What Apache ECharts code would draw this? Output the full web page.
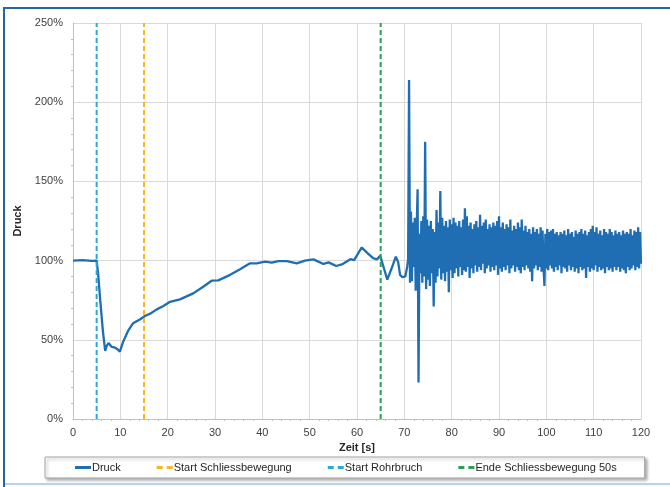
<!DOCTYPE html>
<html>
<head>
<meta charset="utf-8">
<script src="https://cdn.jsdelivr.net/npm/echarts@6/dist/echarts.min.js"></script>
<style>
  html, body { margin: 0; padding: 0; background: #ffffff; }
  #chart { width: 670px; height: 487px; }
</style>
</head>
<body>
<div id="chart"></div>
<script>
// ---- Data ----
const xTicks = [0, 10, 20, 30, 40, 50, 60, 70, 80, 90, 100, 110, 120];
const yTicks = [0, 50, 100, 150, 200, 250];

// Druck, slow part (time [s], value [%])
const druckTimes = [0, 2, 4, 5.0, 5.3, 5.7, 6.3, 6.8, 7.1, 7.5, 8.2, 8.9, 9.4, 9.9, 10.6, 11.7, 12.7, 14.2, 15.2, 16.3, 17.7, 19.1, 20.5, 22.6, 25.4, 27.5, 29.3, 30.7, 33.2, 35.3, 37.4, 38.8, 40.6, 42.0, 43.4, 45.2, 47.3, 49.0, 50.8, 52.9, 54.0, 55.6, 56.8, 58.6, 59.4, 61.0, 62.1, 63.4, 64.2, 64.9, 65.7, 66.4, 67.3, 68.2, 68.7, 69.1, 69.6, 70.2, 70.6, 70.8];
const druckValues = [100, 100.3, 99.8, 100, 92, 77, 56, 43, 46, 48, 45.5, 45, 44, 42.5, 48.8, 56, 60.5, 63, 65, 66.5, 69.2, 71.3, 74, 75.5, 79.3, 83.5, 87.3, 87.5, 91, 94.5, 98.3, 98.3, 99.3, 98.7, 99.7, 99.7, 98.3, 100, 100.8, 97.9, 98.9, 96.6, 97.6, 100.9, 100.3, 108.3, 105, 101.5, 100.8, 103, 95, 88, 95, 102.5, 99, 91, 89.5, 90, 96, 101];

// Druck, oscillating part: samples every 0.2 s starting at 71.0 s
const noiseStart = 71.0;
const noiseStep = 0.2;
const noiseValues = [
  214, 86, 131, 87, 124, 96, 127, 81, 118, 145,
  23, 117, 92, 125, 86, 128, 90, 175, 82, 126,
  88, 122, 84, 125, 92, 120, 71, 118, 86, 132,
  90, 124, 95, 144, 88, 127, 92, 122, 87, 125,
  93, 121, 80, 126, 94, 123, 89, 127, 92, 124,
  95, 122, 90, 125, 96, 121, 91, 126, 94, 133,
  93, 128, 96, 122, 89, 124, 95, 120, 92, 123,
  97, 125, 93, 121, 96, 129, 94, 122, 98, 124,
  92, 126, 95, 120, 97, 123, 93, 121, 96, 124,
  94, 122, 97, 125, 91, 128, 95, 121, 93, 124,
  96, 120, 94, 123, 97, 121, 92, 126, 95, 119,
  97, 122, 93, 120, 96, 124, 94, 121, 92, 126,
  96, 119, 94, 122, 97, 118, 95, 120, 93, 117,
  87, 121, 95, 118, 97, 120, 94, 117, 96, 121,
  93, 119, 96, 84, 117, 95, 120, 94, 118, 97,
  119, 95, 120, 93, 117, 96, 118, 94, 116, 97,
  118, 92, 117, 96, 119, 95, 116, 93, 120, 97,
  117, 94, 118, 96, 115, 93, 119, 95, 117, 92,
  118, 96, 120, 94, 117, 95, 119, 89, 116, 96,
  118, 93, 120, 95, 122, 94, 118, 97, 121, 93,
  117, 96, 119, 94, 116, 95, 120, 92, 118, 96,
  117, 94, 120, 95, 118, 93, 116, 96, 119, 94,
  117, 96, 118, 93, 116, 95, 119, 94, 117, 92,
  118, 96, 117, 94, 120, 95, 116, 97, 119, 94,
  118, 96, 121, 95, 118, 98
];

// Vertical event markers
const markerNames = ['Start Schliessbewegung', 'Start Rohrbruch', 'Ende Schliessbewegung 50s'];
const markerTimes = [15, 5, 65];
const markerColors = ['#f6b724', '#2aa9dc', '#2f9e52'];

// ---- Build chart ----
const druckData = druckTimes.map((t, i) => [t, druckValues[i]])
  .concat(noiseValues.map((v, i) => [Math.round((noiseStart + i * noiseStep) * 100) / 100, v]));

const FONT = '"Liberation Sans", Arial, sans-serif';
const SOLID_ICON = 'path://M0,0H16V3H0Z';
const DASH_ICON = 'path://M0,0H6V3H0Z M10,0H16V3H10Z';

const series = [{
  name: 'Druck',
  type: 'line',
  data: druckData,
  showSymbol: false,
  symbol: 'none',
  sampling: null,
  lineStyle: { color: '#1f6eb4', width: 2.3 },
  itemStyle: { color: '#1f6eb4' },
  z: 2
}];
markerNames.forEach((n, i) => {
  series.push({
    name: n,
    type: 'line',
    data: [[markerTimes[i], yTicks[0]], [markerTimes[i], yTicks[yTicks.length - 1]]],
    showSymbol: false,
    symbol: 'none',
    lineStyle: { color: markerColors[i], width: 2, type: [5, 3] },
    itemStyle: { color: markerColors[i] },
    z: 3
  });
});

const legendData = [{ name: 'Druck', icon: SOLID_ICON }]
  .concat(markerNames.map(n => ({ name: n, icon: DASH_ICON })));

const chart = echarts.init(document.getElementById('chart'), null, { renderer: 'canvas' });
chart.setOption({
  animation: false,
  backgroundColor: '#ffffff',
  textStyle: { fontFamily: FONT },
  grid: { left: 73, right: 29, top: 23, bottom: 68, containLabel: false },
  xAxis: {
    type: 'value',
    min: xTicks[0],
    max: xTicks[xTicks.length - 1],
    interval: 10,
    name: 'Zeit [s]',
    nameLocation: 'middle',
    nameGap: 17,
    nameTextStyle: { fontFamily: FONT, fontSize: 11, fontWeight: 'bold', color: '#262626' },
    axisLine: { show: true, lineStyle: { color: '#bfbfbf', width: 1 } },
    axisTick: { show: false },
    minorTick: { show: true, splitNumber: 5, length: 2, lineStyle: { color: '#bfbfbf' } },
    axisLabel: { fontFamily: FONT, fontSize: 11, color: '#404040', margin: 8 },
    splitLine: { show: true, lineStyle: { color: '#dadada', width: 1 } }
  },
  yAxis: {
    type: 'value',
    min: yTicks[0],
    max: yTicks[yTicks.length - 1],
    interval: 50,
    name: 'Druck',
    nameLocation: 'middle',
    nameGap: 33,
    nameRotate: 90,
    nameTextStyle: { fontFamily: FONT, fontSize: 11, fontWeight: 'bold', color: '#262626' },
    axisLine: { show: true, lineStyle: { color: '#bfbfbf', width: 1 } },
    axisTick: { show: false },
    minorTick: { show: true, splitNumber: 5, length: 2, lineStyle: { color: '#bfbfbf' } },
    axisLabel: { fontFamily: FONT, fontSize: 11, color: '#404040', margin: 10, formatter: '{value}%' },
    splitLine: { show: true, lineStyle: { color: '#dadada', width: 1 } }
  },
  legend: {
    show: true,
    left: 45,
    top: 457,
    orient: 'horizontal',
    itemWidth: 16,
    itemHeight: 3,
    itemGap: 36,
    padding: [5, 28, 5, 30],
    borderColor: '#a6a6a6',
    borderWidth: 1,
    backgroundColor: '#ffffff',
    shadowColor: 'rgba(0,0,0,0.3)',
    shadowBlur: 3,
    shadowOffsetX: 2,
    shadowOffsetY: 2,
    textStyle: { fontFamily: FONT, fontSize: 11, color: '#262626', padding: [0, 0, 0, -4] },
    data: legendData
  },
  graphic: [
    { type: 'line', shape: { x1: 4, y1: 8, x2: 670, y2: 8 }, style: { stroke: '#2466a5', lineWidth: 2 }, z: 100 },
    { type: 'line', shape: { x1: 4, y1: 7, x2: 4, y2: 487 }, style: { stroke: '#2466a5', lineWidth: 2 }, z: 100 },
    { type: 'line', shape: { x1: 5, y1: 484, x2: 670, y2: 484 }, style: { stroke: '#b3d4ee', lineWidth: 2 }, z: 100 }
  ],
  series: series
});
</script>
</body>
</html>
